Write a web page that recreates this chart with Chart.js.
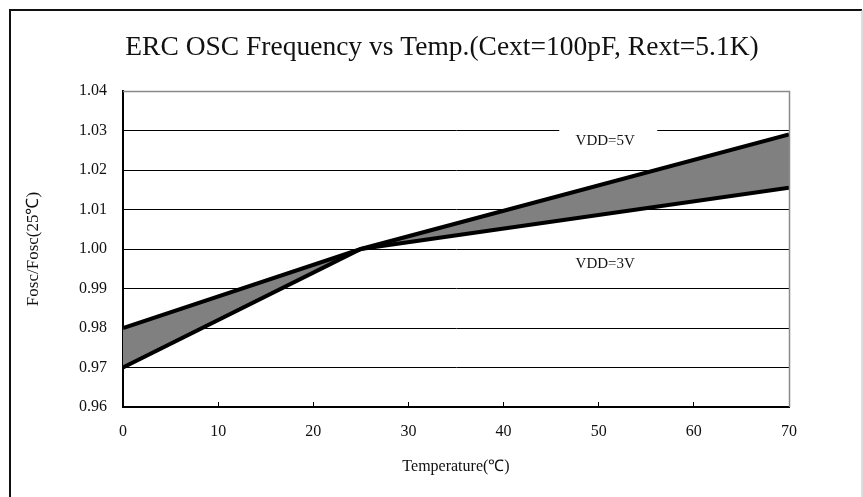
<!DOCTYPE html>
<html>
<head>
<meta charset="utf-8">
<script src="https://cdn.jsdelivr.net/npm/chart.js@4.4.0/dist/chart.umd.min.js"></script>
<style>
  html, body { margin: 0; padding: 0; background: #fff; }
  canvas { display: block; }
</style>
</head>
<body>
<canvas id="chart" width="863" height="497"></canvas>
<script>
// values
const temps = [0, 25, 70];
const vdd3 = [0.980, 1.000, 1.0155];
const vdd5 = [0.970, 1.000, 1.029];
const xTicks = [0, 10, 20, 30, 40, 50, 60, 70];
const yTicks = [0.96, 0.97, 0.98, 0.99, 1.00, 1.01, 1.02, 1.03, 1.04];
const seriesNames = ['VDD=3V', 'VDD=5V'];
const chartTitle = 'ERC OSC Frequency vs Temp.(Cext=100pF, Rext=5.1K)';

const SERIF = "'Liberation Serif', 'Times New Roman', serif";

// where the two line labels sit, in data units
const labelSpots = [
  { text: 'VDD=5V', x: 51, y: 1.0273 },
  { text: 'VDD=3V', x: 51, y: 0.9962 },
];

const framePlugin = {
  id: 'frame',
  beforeDraw(chart) {
    const c = chart.ctx;
    c.save();
    c.fillStyle = '#fff';
    c.fillRect(0, 0, chart.width, chart.height);
    c.restore();
  },
  afterDraw(chart) {
    const c = chart.ctx;
    const { top, right, left } = chart.chartArea;
    const xs = chart.scales.x, ys = chart.scales.y;
    c.save();
    // gray top / right edge of the plot box
    c.strokeStyle = '#8a8a8a';
    c.lineWidth = 1.5;
    c.beginPath();
    c.moveTo(left, top + 0.5);
    c.lineTo(right + 0.5, top + 0.5);
    c.lineTo(right + 0.5, chart.chartArea.bottom);
    c.stroke();

    // title, centred over the whole picture rather than the plot
    c.fillStyle = '#111';
    c.font = '27.5px ' + SERIF;
    c.textAlign = 'center';
    c.textBaseline = 'middle';
    c.fillText(chartTitle, 442, 48);

    // series labels with white box over the grid line
    c.font = '15px ' + SERIF;
    labelSpots.forEach(s => {
      const px = xs.getPixelForValue(s.x);
      const py = ys.getPixelForValue(s.y);
      c.fillStyle = '#fff';
      c.fillRect(px - 49, py - 13, 98, 26);
      c.fillStyle = '#111';
      c.fillText(s.text, px - 3, py);
    });

    // outer picture border
    c.strokeStyle = '#111';
    c.lineWidth = 2;
    c.beginPath();
    c.moveTo(10, chart.height);
    c.lineTo(10, 10);
    c.lineTo(862, 10);
    c.stroke();
    c.strokeStyle = '#bbb';
    c.lineWidth = 1;
    c.beginPath();
    c.moveTo(862, 10);
    c.lineTo(862, chart.height);
    c.stroke();
    c.restore();
  }
};

new Chart(document.getElementById('chart'), {
  type: 'line',
  data: {
    datasets: [
      {
        label: seriesNames[0],
        data: temps.map((t, i) => ({ x: t, y: vdd3[i] })),
        borderColor: '#000',
        borderWidth: 4,
        pointRadius: 0,
        tension: 0,
        fill: false,
      },
      {
        label: seriesNames[1],
        data: temps.map((t, i) => ({ x: t, y: vdd5[i] })),
        borderColor: '#000',
        borderWidth: 4,
        pointRadius: 0,
        tension: 0,
        fill: '-1',
        backgroundColor: '#808080',
      },
    ],
  },
  options: {
    responsive: false,
    animation: false,
    layout: { padding: { left: 0, right: 74, top: 91, bottom: 0 } },
    plugins: {
      legend: { display: false },
      tooltip: { enabled: false },
      title: { display: false },
    },
    scales: {
      x: {
        type: 'linear',
        min: 0,
        max: 70,
        afterBuildTicks: s => { s.ticks = xTicks.map(v => ({ value: v })); },
        afterFit: s => { s.height = 90; },
        grid: {
          drawOnChartArea: false,
          drawTicks: true,
          tickLength: -5,
          color: '#000',
          lineWidth: 1,
        },
        border: { color: '#000', width: 2 },
        ticks: {
          color: '#111',
          padding: 20,
          maxRotation: 0,
          font: { family: SERIF, size: 16 },
        },
        title: {
          display: true,
          text: 'Temperature(℃)',
          color: '#111',
          font: { family: SERIF, size: 16 },
          padding: { top: 0, bottom: 21 },
        },
      },
      y: {
        min: 0.96,
        max: 1.04,
        afterBuildTicks: s => { s.ticks = yTicks.map(v => ({ value: v })); },
        afterFit: s => { s.width = 123; },
        grid: {
          color: ctx => (ctx.index === yTicks.length - 1 ? '#8a8a8a' : '#000'),
          lineWidth: 1,
          drawTicks: false,
        },
        border: { color: '#000', width: 2 },
        ticks: {
          color: '#111',
          padding: 16,
          font: { family: SERIF, size: 16 },
          callback: v => v.toFixed(2),
        },
        title: {
          display: true,
          text: 'Fosc/Fosc(25℃)',
          color: '#111',
          font: { family: SERIF, size: 17 },
          padding: { top: 23, bottom: 0 },
        },
      },
    },
  },
  plugins: [framePlugin],
});
</script>
</body>
</html>
